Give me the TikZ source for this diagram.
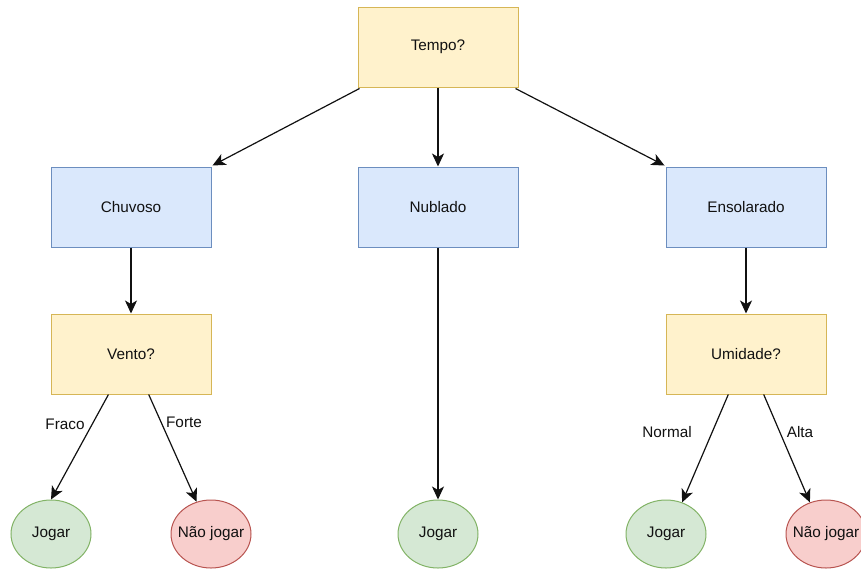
\documentclass[tikz,border=0pt]{standalone}
\usepackage{fontspec}
\setmainfont{Liberation Sans}
\usetikzlibrary{arrows.meta,shapes.geometric,calc}
\definecolor{qfill}{HTML}{FFF2CC}\definecolor{qdraw}{HTML}{D6B656}
\definecolor{bfill}{HTML}{DAE8FC}\definecolor{bdraw}{HTML}{6C8EBF}
\definecolor{gfill}{HTML}{D5E8D4}\definecolor{gdraw}{HTML}{82B366}
\definecolor{rfill}{HTML}{F8CECC}\definecolor{rdraw}{HTML}{B85450}
\definecolor{ink}{HTML}{111111}
\tikzset{
  every node/.style={font=\fontsize{15.3}{18}\selectfont, text=ink},
  box/.style={rectangle, minimum width=160pt, minimum height=80pt, inner sep=0pt, line width=1pt},
  question/.style={box, fill=qfill, draw=qdraw},
  branch/.style={box, fill=bfill, draw=bdraw},
  % the leaf ellipses keep a fixed size even when the text is wide
  leaf/.style={ellipse, minimum width=80pt, minimum height=68pt, inner ysep=0pt, inner xsep=-20pt, line width=1pt},
  yes/.style={leaf, fill=gfill, draw=gdraw},
  no/.style={leaf, fill=rfill, draw=rdraw},
  link/.style={draw=ink, line width=1.2pt, -{Stealth[length=13pt, width=12pt, inset=3.5pt]}},
  lbl/.style={fill=white, inner sep=1pt}
}
\begin{document}
\begin{tikzpicture}[x=1pt, y=-1pt]
\useasboundingbox (0,0) rectangle (861,568);

% question and outlook boxes
\node[question] (tempo) at (438,47) {Tempo?};
\node[branch] (chuvoso) at (131,207) {Chuvoso};
\node[branch] (nublado) at (438,207) {Nublado};
\node[branch] (ensol) at (746,207) {Ensolarado};
\node[question] (vento) at (131,354) {Vento?};
\node[question] (umid) at (746,354) {Umidade?};

% decisions
\node[yes] (jogA) at (51,534) {Jogar};
\node[no]  (naoA) at (211,534) {Não jogar};
\node[yes] (jogB) at (438,534) {Jogar};
\node[yes] (jogC) at (666,534) {Jogar};
\node[no]  (naoC) at (826,534) {Não jogar};

% first split
\draw[link] ($(tempo.south west)+(2,1)$) -- ($(chuvoso.north east)+(1,-1)$);
\draw[link] (tempo.south) -- (nublado.north);
\draw[link] ($(tempo.south east)+(-3,1)$) -- ($(ensol.north west)+(-1,-1)$);

\draw[link] (chuvoso.south) -- (vento.north);
\draw[link] (nublado.south) -- (jogB.north);
\draw[link] (ensol.south) -- (umid.north);

% wind split
\coordinate (vA) at ($(vento.south west)!0.36!(vento.south east)$);
\coordinate (vB) at ($(vento.south west)!0.61!(vento.south east)$);
\draw[link] (vA) -- (jogA.north);
\draw[link] (vB) -- (naoA.114);
\node[lbl] at (65,424) {Fraco};
\node[lbl] at (184,422) {Forte};

% humidity split
\coordinate (uA) at ($(umid.south west)!0.39!(umid.south east)$);
\coordinate (uB) at ($(umid.south west)!0.61!(umid.south east)$);
\draw[link] (uA) -- (jogC.63);
\draw[link] (uB) -- (naoC.117);
\node[lbl] at (667,432) {Normal};
\node[lbl] at (800,432) {Alta};
\end{tikzpicture}
\end{document}
